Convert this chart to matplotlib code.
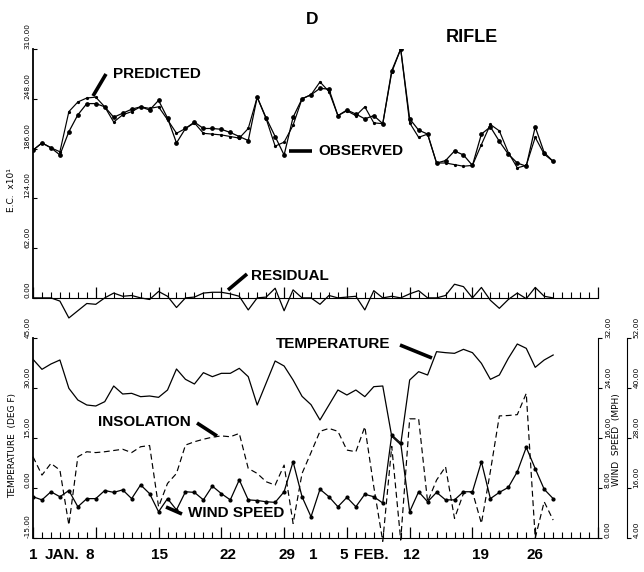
import matplotlib.pyplot as plt
import numpy as np
from matplotlib.lines import Line2D

# daily values, 1 Jan (day 0) to 28 Feb (day 58)
days = np.arange(59)

observed = [184, 193, 187, 178, 207, 228, 242, 242, 238, 225,
            230, 235, 238, 234, 246, 224, 193, 211, 219, 211,
            211, 210, 206, 201, 196, 250, 224, 201, 178, 225,
            248, 253, 261, 260, 227, 234, 229, 223, 227, 217,
            283, 310, 223, 209, 204, 168, 171, 183, 178, 165,
            204, 213, 195, 179, 168, 164, 213, 181, 170]

predicted = [184, 193, 187, 182, 232, 244, 249, 250, 238, 219,
             228, 232, 238, 236, 238, 222, 205, 211, 218, 205,
             204, 203, 201, 199, 211, 250, 223, 189, 194, 215,
             248, 253, 269, 257, 227, 233, 227, 238, 218, 217,
             281, 310, 218, 200, 204, 168, 168, 166, 164, 165,
             191, 216, 208, 181, 162, 165, 200, 179, 170]

temperature = [38.6, 35.6, 37.2, 38.4, 29.9, 26.4, 24.9, 24.6, 25.9, 30.6,
               28.2, 28.4, 27.4, 27.6, 27.2, 29.4, 35.7, 32.6, 31.2, 34.6,
               33.4, 34.4, 34.4, 35.9, 33.4, 24.9, 31.5, 38.1, 36.6, 32.4,
               27.5, 25.0, 20.4, 24.9, 29.4, 27.9, 29.4, 27.4, 30.4, 30.6,
               15.5, 13.0, 32.4, 34.9, 33.9, 40.9, 40.6, 40.4, 41.6, 40.6,
               37.4, 32.6, 33.9, 38.9, 43.2, 41.9, 36.2, 38.4, 39.9]

insolation = [23.5, 19.1, 21.9, 20.3, 7.1, 23.5, 24.7, 24.5, 24.7, 25.0,
              25.3, 24.5, 25.9, 26.2, 11.5, 17.1, 19.5, 26.3, 27.1, 27.7,
              28.2, 28.5, 28.3, 29.1, 20.7, 19.5, 17.5, 16.7, 21.5, 7.5,
              19.5, 24.5, 29.6, 30.3, 29.6, 25.1, 24.7, 30.7, 16.3, 3.2,
              26.0, 3.5, 32.6, 32.6, 12.7, 17.9, 21.1, 8.7, 14.7, 15.1,
              7.5, 20.0, 33.3, 33.4, 33.6, 38.7, 4.0, 12.7, 8.3]

wind_speed = [6.6, 6.1, 7.4, 6.6, 7.6, 5.0, 6.3, 6.3, 7.6, 7.3,
              7.7, 6.3, 8.5, 7.1, 4.2, 6.3, 4.5, 7.4, 7.3, 6.1,
              8.3, 7.1, 6.1, 9.3, 6.1, 6.0, 5.8, 5.7, 7.4, 12.2,
              6.6, 3.4, 7.8, 6.6, 5.0, 6.5, 5.0, 7.0, 6.6, 5.6,
              16.5, 15.2, 4.2, 7.4, 5.8, 7.3, 6.1, 6.1, 7.4, 7.4,
              12.2, 6.3, 7.3, 8.1, 10.6, 14.5, 11.1, 7.8, 6.3]

residual = np.array(observed) - np.array(predicted)

ec_ticks = [0, 62, 124, 186, 248, 310]
temp_ticks = [-15, 0, 15, 30, 45]
wind_ticks = [0, 8, 16, 24, 32]
insol_ticks = [4, 16, 28, 40, 52]

date_labels = [(0, "1"), (3.3, "JAN."), (6.3, "8"), (14.1, "15"), (21.7, "22"),
               (28.3, "29"), (31.2, "1"), (34.7, "5"), (37.7, "FEB."),
               (42.2, "12"), (49.9, "19"), (56.0, "26")]

W_PX, H_PX = 644, 572
fig = plt.figure(figsize=(W_PX / 100, H_PX / 100), dpi=100)


def fx(x):
    return x / W_PX


def fy(y):
    return 1 - y / H_PX


bold = dict(family="Liberation Sans", weight="bold", color="black")
small = dict(family="DejaVu Sans", fontsize=5.3)


def day_ticks(ax):
    ax.set_xlim(0, 63)
    ax.set_xticks(list(range(0, 63, 7)) + [63])
    ax.set_xticks(range(0, 64), minor=True)
    ax.tick_params(axis="x", which="major", direction="in", length=8, width=0.9,
                   labelbottom=False)
    ax.tick_params(axis="x", which="minor", direction="in", length=4, width=0.8)


def rotated_labels(ax, ticks, direction="in", pad=2):
    ax.set_yticks(ticks)
    ax.set_yticklabels([f"{t:.2f}" for t in ticks], rotation=90, va="bottom", **small)
    ax.tick_params(axis="y", direction=direction, length=3, width=0.8, pad=pad)


L, R = 33, 598

# E.C. panel with residual on the zero line
ax1 = fig.add_axes([fx(L), fy(330), fx(R) - fx(L), (330 - 49) / H_PX])
ax1.patch.set_alpha(0)
ax1.plot(days, predicted, color="k", lw=0.85, marker="o", ms=1.3)
ax1.plot(days, observed, color="k", lw=0.9, marker="o", ms=2.4)
ax1.plot(days, residual, color="k", lw=0.9)
ax1.set_ylim(-40, 310)
for s in ("top", "right"):
    ax1.spines[s].set_visible(False)
ax1.spines["bottom"].set_position(("data", 0))
ax1.spines["left"].set_bounds(0, 310)
ax1.spines["left"].set_linewidth(1.3)
day_ticks(ax1)
rotated_labels(ax1, ec_ticks)

# temperature / insolation / wind panel
ax2 = fig.add_axes([fx(L), fy(538), fx(R) - fx(L), 200 / H_PX])
ax2.plot(days, temperature, color="k", lw=0.9)
ax2.set_ylim(-15, 45)
ax2.spines["top"].set_visible(False)
ax2.spines["right"].set_visible(False)
ax2.spines["left"].set_linewidth(1.3)
day_ticks(ax2)
rotated_labels(ax2, temp_ticks)

ax3 = ax2.twinx()
ax3.plot(days, wind_speed, color="k", lw=0.9, marker="o", ms=2.0)
ax3.set_ylim(0, 32)
ax3.set_xlim(0, 63)
for s in ("top", "left", "bottom"):
    ax3.spines[s].set_visible(False)
rotated_labels(ax3, wind_ticks, direction="out")

ax4 = ax2.twinx()
ax4.plot(days, insolation, color="k", lw=0.85, ls=(0, (5, 3)), clip_on=False)
ax4.set_ylim(4, 52)
ax4.set_xlim(0, 63)
for s in ("top", "left", "bottom"):
    ax4.spines[s].set_visible(False)
ax4.spines["right"].set_position(("axes", 1 + 29 / (R - L)))
rotated_labels(ax4, insol_ticks, direction="out", pad=1.5)

# axis titles
fig.text(fx(12), fy(190), "E.C.  x10\u00b9", rotation=90, ha="center", va="center",
         family="DejaVu Sans", fontsize=6.5)
fig.text(fx(13), fy(445), "TEMPERATURE  (DEG F)", rotation=90, ha="center", va="center",
         family="DejaVu Sans", fontsize=6.5)
fig.text(fx(617), fy(440), "WIND  SPEED  (MPH)", rotation=90, ha="center", va="center",
         family="DejaVu Sans", fontsize=6.5)

# date labels under the lower panel
for d, s in date_labels:
    ax2.text(d, -0.085, s, transform=ax2.get_xaxis_transform(), ha="center", va="center",
             fontsize=11, **bold)

# titles
fig.text(fx(312), fy(20), "D", ha="center", va="center", fontsize=12.5, **bold)
fig.text(fx(472), fy(37), "RIFLE", ha="center", va="center", fontsize=13, **bold)

# callouts
callouts = [
    ("PREDICTED", (157, 74), (106, 74), (93, 96)),
    ("OBSERVED", (361, 151), (312, 151), (289, 151)),
    ("RESIDUAL", (290, 276), (247, 274), (228, 290)),
    ("TEMPERATURE", (333, 344), (400, 345), (432, 358)),
    ("INSOLATION", (144, 422), (197, 423), (217, 436)),
    ("WIND SPEED", (236, 513), (166, 507), (182, 514)),
]
for text, (tx, ty), (x1, y1), (x2, y2) in callouts:
    fig.text(fx(tx), fy(ty), text, ha="center", va="center", fontsize=11, **bold)
    fig.add_artist(Line2D([fx(x1), fx(x2)], [fy(y1), fy(y2)], transform=fig.transFigure,
                          color="k", lw=2.6, solid_capstyle="butt"))

plt.savefig("out.png", dpi=100)
